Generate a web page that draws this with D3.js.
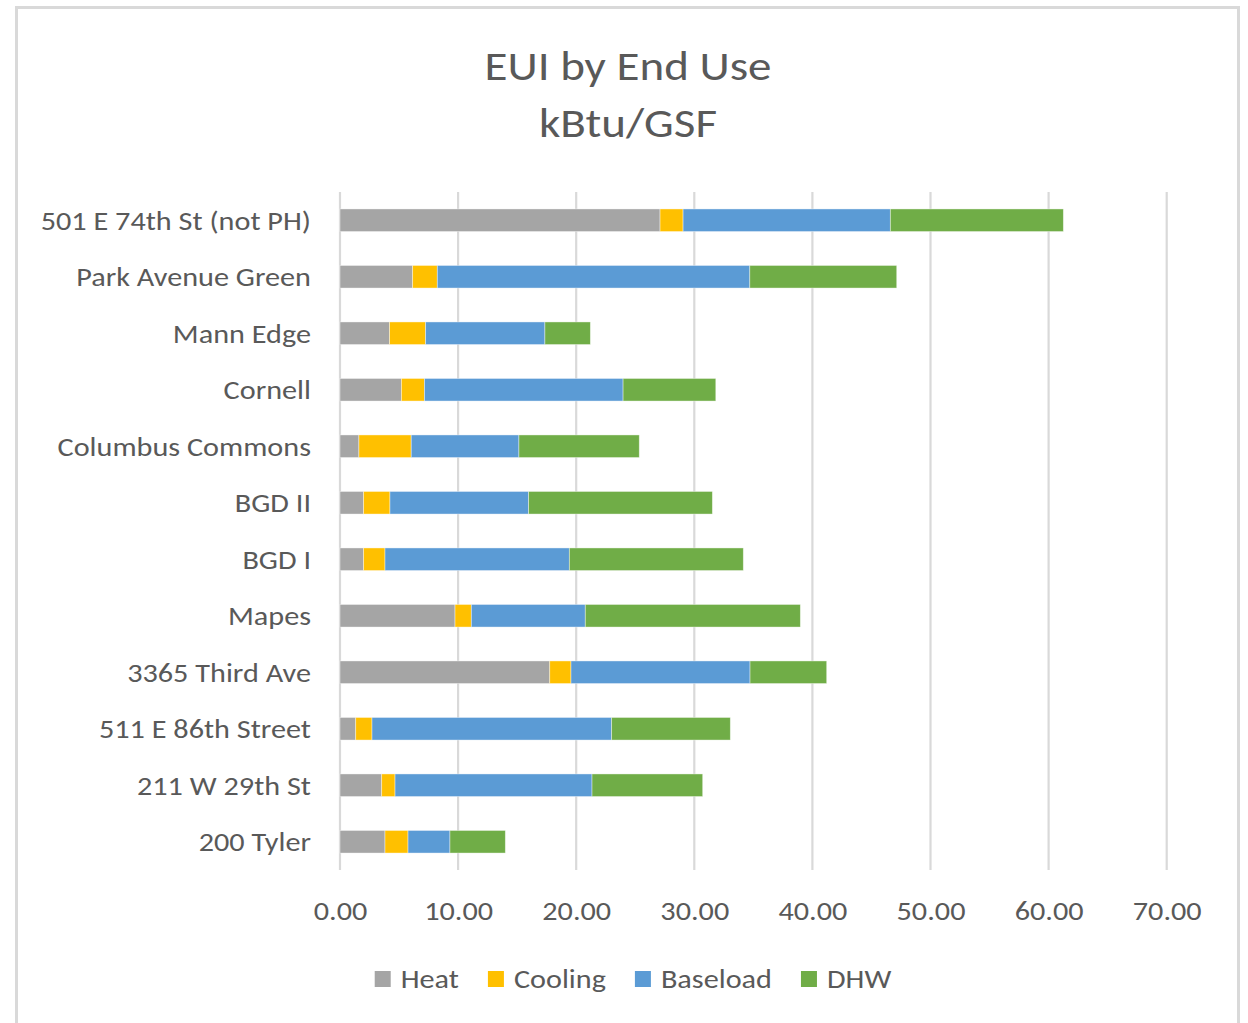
<!DOCTYPE html>
<html>
<head>
<meta charset="utf-8">
<script src="https://cdn.jsdelivr.net/npm/d3@7"></script>
<style>
  html, body { margin: 0; padding: 0; background: #fff; }
  svg { display: block; }
  text { font-family: Carlito, Calibri, Lato, sans-serif; fill: #595959; }
</style>
</head>
<body>
<svg id="chart" width="1248" height="1023"></svg>
<script>
const categories = ["501 E 74th St (not PH)", "Park Avenue Green", "Mann Edge", "Cornell", "Columbus Commons", "BGD II", "BGD I", "Mapes", "3365 Third Ave", "511 E 86th Street", "211 W 29th St", "200 Tyler"];
const heat     = [27.10, 6.15, 4.20, 5.20, 1.60, 2.00, 2.00, 9.74, 17.76, 1.33, 3.53, 3.81];
const cooling  = [1.95, 2.09, 3.05, 1.95, 4.43, 2.23, 1.81, 1.38, 1.80, 1.38, 1.13, 1.95];
const baseload = [17.55, 26.46, 10.10, 16.82, 9.12, 11.74, 15.61, 9.65, 15.16, 20.29, 16.68, 3.55];
const dhw      = [14.65, 12.44, 3.85, 7.85, 10.19, 15.56, 14.73, 18.21, 6.49, 10.05, 9.37, 4.69];
const seriesNames = ["Heat", "Cooling", "Baseload", "DHW"];
const seriesColors = ["#A5A5A5", "#FFC000", "#5B9BD5", "#70AD47"];
const xTicks = [0, 10, 20, 30, 40, 50, 60, 70];
const titleLines = ["EUI by End Use", "kBtu/GSF"];

const SX = 1.12; // horizontal stretch of the reference's text
const svg = d3.select("#chart");

// outer chart border
svg.append("rect").attr("x", 16.5).attr("y", 7.5).attr("width", 1222).attr("height", 1030)
  .attr("fill", "#fff").attr("stroke", "#d9d9d9").attr("stroke-width", 3);

// title
titleLines.forEach((t, i) => {
  svg.append("text").attr("transform", `translate(628,${80 + i * 57}) scale(${SX},1)`)
    .attr("text-anchor", "middle").style("font-size", "42px").text(t);
});

const table = categories.map((c, i) => ({ cat: c, Heat: heat[i], Cooling: cooling[i], Baseload: baseload[i], DHW: dhw[i] }));
const stack = d3.stack().keys(seriesNames)(table);

const x = d3.scaleLinear().domain([0, 70]).range([340, 1166.7]);
const y = d3.scaleBand().domain(categories).range([192, 870]).paddingInner(0.6).paddingOuter(0.3);

// gridlines
svg.append("g").selectAll("line").data(xTicks).join("line")
  .attr("x1", d => x(d)).attr("x2", d => x(d))
  .attr("y1", 192).attr("y2", 870)
  .attr("stroke", "#d9d9d9").attr("stroke-width", 2.2);

// bars
const color = d3.scaleOrdinal().domain(seriesNames).range(seriesColors);
svg.append("g").selectAll("g").data(stack).join("g")
  .attr("fill", d => color(d.key))
  .selectAll("rect").data(d => d).join("rect")
  .attr("x", d => x(d[0]))
  .attr("width", d => x(d[1]) - x(d[0]))
  .attr("y", d => y(d.data.cat))
  .attr("height", y.bandwidth())
  .attr("stroke", "#ffffff").attr("stroke-opacity", 0.5).attr("stroke-width", 0.8);

// category labels
const yAxis = d3.axisLeft(y).tickSize(0).tickPadding(0);
const gy = svg.append("g").attr("transform", "translate(311,0)").call(yAxis);
gy.select(".domain").remove();
gy.selectAll("text").attr("x", 0).style("font-size", "27px").attr("fill", "#595959")
  .attr("dy", "0.35em").attr("transform", `scale(${SX},1)`);

// x tick labels
const xAxis = d3.axisBottom(x).tickValues(xTicks).tickFormat(d3.format(".2f")).tickSize(0).tickPadding(0);
const gx = svg.append("g").attr("transform", "translate(0,920)").call(xAxis);
gx.select(".domain").remove();
gx.selectAll("text").attr("y", 0).style("font-size", "27px").attr("fill", "#595959")
  .attr("dy", "0").attr("transform", `scale(${SX},1)`);

// legend
const legend = svg.append("g");
const items = legend.selectAll("g").data(seriesNames).join("g");
items.append("rect").attr("width", 16).attr("height", 16).attr("y", -17)
  .attr("fill", d => color(d));
items.append("text").attr("transform", `translate(26,0) scale(${SX},1)`)
  .style("font-size", "27px").text(d => d);
let cx = 0;
const gap = 29;
items.each(function () {
  const w = 26 + SX * this.querySelector("text").getComputedTextLength();
  d3.select(this).attr("transform", `translate(${cx},0)`);
  cx += w + gap;
});
const total = cx - gap;
legend.attr("transform", `translate(${633 - total / 2},988)`);
</script>
</body>
</html>
